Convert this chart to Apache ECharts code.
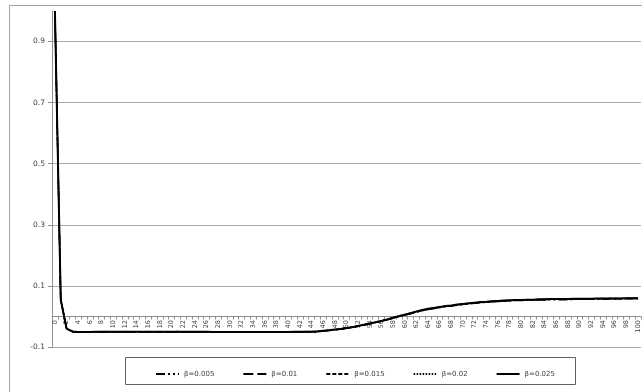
<!DOCTYPE html>
<html>
<head>
<meta charset="utf-8">
<script src="https://cdn.jsdelivr.net/npm/echarts@6/dist/echarts.min.js"></script>
<style>
  html, body { margin: 0; padding: 0; background: #fff; }
  #chart { width: 642px; height: 392px; }
</style>
</head>
<body>
<div id="chart"></div>
<script>
// Time steps 0..100 along the horizontal axis
const categories = Array.from({ length: 101 }, (_, i) => String(i));

// Value-axis tick labels
const yTicks = [-0.1, 0.1, 0.3, 0.5, 0.7, 0.9];

const seriesNames = ['β=0.005', 'β=0.01', 'β=0.015', 'β=0.02', 'β=0.025'];

const beta005 = [
  1.000, 0.054, -0.041, -0.050, -0.052, -0.052, -0.052, -0.051, -0.051, -0.051,
  -0.051, -0.051, -0.051, -0.051, -0.051, -0.051, -0.051, -0.051, -0.052, -0.052,
  -0.052, -0.052, -0.052, -0.052, -0.052, -0.052, -0.052, -0.052, -0.052, -0.052,
  -0.052, -0.052, -0.052, -0.052, -0.052, -0.052, -0.052, -0.052, -0.052, -0.052,
  -0.052, -0.051, -0.051, -0.051, -0.051, -0.050, -0.048, -0.046, -0.044, -0.042,
  -0.039, -0.036, -0.032, -0.028, -0.024, -0.020, -0.016, -0.011, -0.006, -0.001,
  0.004, 0.009, 0.014, 0.019, 0.023, 0.026, 0.029, 0.032, 0.034, 0.037,
  0.039, 0.041, 0.043, 0.045, 0.046, 0.048, 0.049, 0.050, 0.051, 0.052,
  0.052, 0.053, 0.053, 0.054, 0.054, 0.055, 0.055, 0.055, 0.055, 0.056,
  0.056, 0.056, 0.056, 0.057, 0.057, 0.057, 0.057, 0.057, 0.058, 0.058,
  0.058
];

const beta01 = [
  1.000, 0.055, -0.040, -0.050, -0.051, -0.052, -0.051, -0.051, -0.050, -0.051,
  -0.050, -0.051, -0.050, -0.051, -0.051, -0.050, -0.051, -0.051, -0.051, -0.050,
  -0.051, -0.051, -0.051, -0.051, -0.050, -0.051, -0.051, -0.051, -0.052, -0.051,
  -0.052, -0.051, -0.052, -0.051, -0.052, -0.051, -0.052, -0.051, -0.051, -0.052,
  -0.051, -0.051, -0.050, -0.051, -0.050, -0.049, -0.048, -0.046, -0.044, -0.041,
  -0.038, -0.035, -0.032, -0.028, -0.024, -0.020, -0.015, -0.010, -0.005, 0.000,
  0.005, 0.010, 0.015, 0.020, 0.024, 0.027, 0.030, 0.033, 0.035, 0.038,
  0.040, 0.042, 0.044, 0.046, 0.047, 0.049, 0.050, 0.051, 0.052, 0.053,
  0.053, 0.054, 0.054, 0.055, 0.055, 0.056, 0.056, 0.056, 0.056, 0.057,
  0.057, 0.057, 0.057, 0.058, 0.058, 0.058, 0.058, 0.058, 0.059, 0.059,
  0.059
];

const beta015 = [
  1.000, 0.055, -0.040, -0.049, -0.051, -0.051, -0.051, -0.050, -0.050, -0.050,
  -0.050, -0.050, -0.050, -0.050, -0.050, -0.050, -0.050, -0.050, -0.051, -0.050,
  -0.050, -0.050, -0.051, -0.050, -0.050, -0.050, -0.051, -0.051, -0.051, -0.051,
  -0.051, -0.051, -0.051, -0.051, -0.051, -0.052, -0.051, -0.051, -0.051, -0.051,
  -0.051, -0.050, -0.050, -0.050, -0.050, -0.049, -0.047, -0.045, -0.043, -0.041,
  -0.038, -0.035, -0.031, -0.027, -0.023, -0.019, -0.015, -0.010, -0.004, 0.001,
  0.006, 0.011, 0.016, 0.020, 0.024, 0.028, 0.031, 0.033, 0.036, 0.038,
  0.041, 0.043, 0.045, 0.046, 0.048, 0.049, 0.050, 0.051, 0.052, 0.053,
  0.054, 0.054, 0.055, 0.055, 0.056, 0.056, 0.056, 0.057, 0.057, 0.057,
  0.057, 0.058, 0.058, 0.058, 0.058, 0.059, 0.059, 0.059, 0.059, 0.059,
  0.060
];

const beta02 = [
  1.000, 0.056, -0.039, -0.049, -0.050, -0.051, -0.050, -0.050, -0.050, -0.049,
  -0.050, -0.050, -0.049, -0.050, -0.050, -0.050, -0.049, -0.050, -0.050, -0.050,
  -0.050, -0.049, -0.050, -0.050, -0.050, -0.050, -0.050, -0.051, -0.050, -0.051,
  -0.051, -0.050, -0.051, -0.051, -0.051, -0.051, -0.051, -0.050, -0.051, -0.051,
  -0.050, -0.050, -0.050, -0.049, -0.049, -0.048, -0.047, -0.045, -0.043, -0.040,
  -0.037, -0.034, -0.031, -0.027, -0.023, -0.018, -0.014, -0.009, -0.004, 0.002,
  0.007, 0.012, 0.016, 0.021, 0.025, 0.028, 0.031, 0.034, 0.036, 0.039,
  0.041, 0.043, 0.045, 0.047, 0.048, 0.050, 0.051, 0.052, 0.053, 0.054,
  0.054, 0.055, 0.055, 0.056, 0.056, 0.057, 0.057, 0.057, 0.057, 0.058,
  0.058, 0.058, 0.058, 0.059, 0.059, 0.059, 0.059, 0.059, 0.060, 0.060,
  0.060
];

const beta025 = [
  1.000, 0.055, -0.040, -0.049, -0.051, -0.051, -0.051, -0.050, -0.050, -0.050,
  -0.050, -0.050, -0.050, -0.050, -0.050, -0.050, -0.050, -0.050, -0.050, -0.050,
  -0.050, -0.050, -0.050, -0.050, -0.050, -0.050, -0.050, -0.051, -0.051, -0.051,
  -0.051, -0.051, -0.051, -0.051, -0.051, -0.051, -0.051, -0.051, -0.051, -0.051,
  -0.051, -0.050, -0.050, -0.050, -0.050, -0.049, -0.047, -0.045, -0.043, -0.041,
  -0.038, -0.035, -0.031, -0.027, -0.023, -0.019, -0.015, -0.010, -0.004, 0.001,
  0.006, 0.011, 0.016, 0.021, 0.025, 0.028, 0.031, 0.034, 0.036, 0.039,
  0.041, 0.043, 0.045, 0.047, 0.048, 0.050, 0.051, 0.052, 0.053, 0.054,
  0.054, 0.055, 0.055, 0.056, 0.056, 0.057, 0.057, 0.057, 0.057, 0.058,
  0.058, 0.058, 0.058, 0.059, 0.059, 0.059, 0.059, 0.059, 0.060, 0.060,
  0.060
];

const seriesValues = [beta005, beta01, beta015, beta02, beta025];
const lineStyles = [
  { type: [9, 3, 2, 3, 2, 3], width: 1.5 },
  { type: [10, 4], width: 1.5 },
  { type: [4, 2], width: 1.3 },
  { type: [1.5, 1.5], width: 1.2 },
  { type: 'solid', width: 2 }
];

const textColor = '#404040';
const gridColor = '#aaaaaa';
const fontFamily = 'DejaVu Sans, Verdana, sans-serif';

const chart = echarts.init(document.getElementById('chart'), null, { renderer: 'canvas' });

chart.setOption({
  animation: false,
  backgroundColor: '#ffffff',
  graphic: [
    {
      type: 'rect', z: -10,
      shape: { x: 9.5, y: 5.5, width: 700, height: 500 },
      style: { fill: 'none', stroke: '#a0a0a0', lineWidth: 1 }
    },
    {
      type: 'rect', z: -5,
      shape: { x: 125.5, y: 357.5, width: 450, height: 27 },
      style: { fill: '#ffffff', stroke: '#606060', lineWidth: 1 }
    }
  ],
  grid: { left: 52, top: 11, right: 1, bottom: 45, containLabel: false },
  legend: {
    data: seriesNames,
    left: 150,
    top: 365,
    itemWidth: 23,
    itemHeight: 10,
    itemGap: 28,
    itemStyle: { color: 'transparent', borderColor: 'transparent', borderWidth: 0 },
    textStyle: { color: textColor, fontSize: 7, fontFamily: fontFamily }
  },
  xAxis: {
    type: 'category',
    data: categories,
    boundaryGap: true,
    axisLine: { onZero: true, lineStyle: { color: '#909090', width: 1 } },
    axisTick: { show: true, interval: 0, length: 3, lineStyle: { color: '#909090' } },
    axisLabel: {
      interval: 1,
      rotate: 90,
      fontSize: 6.5,
      color: textColor,
      fontFamily: fontFamily,
      margin: -27
    },
    splitLine: { show: false }
  },
  yAxis: {
    type: 'value',
    min: -0.1,
    max: 1.0,
    axisLine: { show: true, lineStyle: { color: '#909090', width: 1 } },
    axisTick: { show: true, length: 4, customValues: yTicks, lineStyle: { color: '#909090' } },
    axisLabel: {
      customValues: yTicks,
      fontSize: 7.5,
      color: textColor,
      fontFamily: fontFamily,
      margin: 7,
      formatter: v => String(Math.round(v * 10) / 10)
    },
    splitLine: { show: true, lineStyle: { color: gridColor, width: 1 } }
  },
  series: seriesNames.map((name, i) => ({
    name: name,
    type: 'line',
    data: seriesValues[i],
    showSymbol: false,
    symbol: 'none',
    smooth: false,
    itemStyle: { color: '#000000' },
    lineStyle: Object.assign({ color: '#000000' }, lineStyles[i]),
    z: 2 + i
  }))
});
</script>
</body>
</html>
